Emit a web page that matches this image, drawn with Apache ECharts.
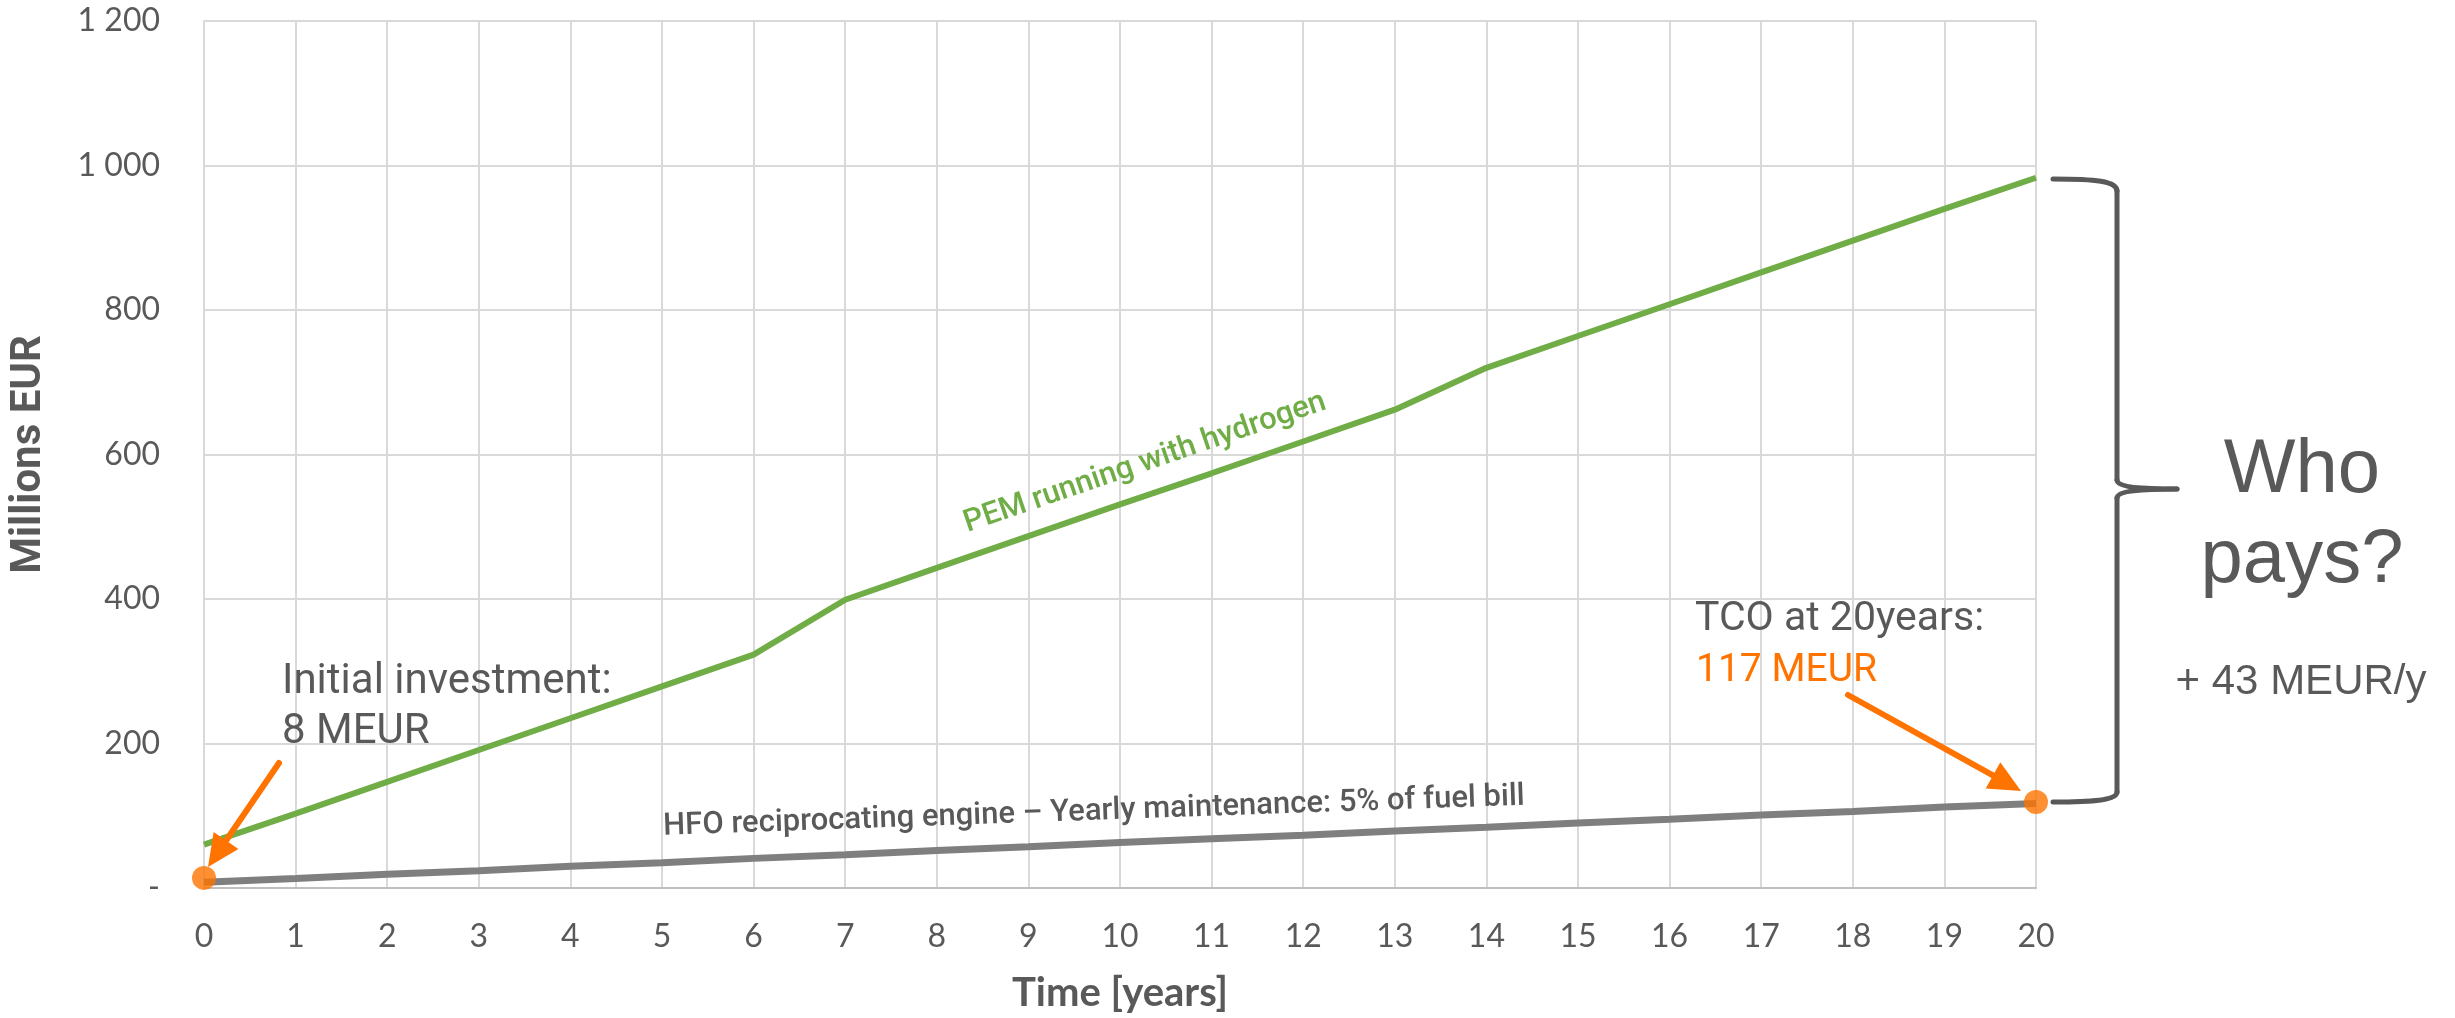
<!DOCTYPE html>
<html>
<head>
<meta charset="utf-8">
<script src="https://cdn.jsdelivr.net/npm/echarts@6/dist/echarts.min.js"></script>
<style>
html,body{margin:0;padding:0;background:#fff;}
#chart{width:2455px;height:1018px;}
</style>
</head>
<body>
<div id="chart"></div>
<script>
// ---- data ----
const years = [0,1,2,3,4,5,6,7,8,9,10,11,12,13,14,15,16,17,18,19,20];
const pemValues = [60,103,147,191,235,279,323,399,443,487,531,574,618,662,720,764,808,852,896,940,983];
const hfoValues = [8,13,19,24,30,35,41,46,52,57,63,68,73,79,84,90,95,101,106,112,117];
const highlightPoints = [[0,14],[20,119]];
const yTickLabels = ['-','200','400','600','800','1 000','1 200'];

const GRAY = '#595959', GREEN = '#70AD47', LINEGRAY = '#7F7F7F', ORANGE = '#FF7300';

const chart = echarts.init(document.getElementById('chart'));

function arrow(x1,y1,x2,y2,color){
  const dx=x2-x1, dy=y2-y1, L=Math.hypot(dx,dy), ux=dx/L, uy=dy/L;
  const hl=32, hw=15;
  const bx=x2-ux*hl, by=y2-uy*hl;
  return [
    {type:'line', shape:{x1:x1,y1:y1,x2:bx+ux*3,y2:by+uy*3}, style:{stroke:color,lineWidth:6,lineCap:'round'}, z:10},
    {type:'polygon', shape:{points:[[x2,y2],[bx-uy*hw,by+ux*hw],[bx+uy*hw,by-ux*hw]]}, style:{fill:color}, z:10}
  ];
}
function txt(text,x,y,font,fill,align,rot){
  return {type:'text', x:x, y:y, rotation:rot||0, z:10,
    style:{text:text, font:font, fill:fill, align:align||'left', verticalAlign:'middle'}};
}
const braceStyle = {stroke:GRAY, lineWidth:5, fill:null, lineCap:'round'};
function bez(x1,y1,cpx1,cpy1,cpx2,cpy2,x2,y2){
  return {type:'bezierCurve', shape:{x1:x1,y1:y1,cpx1:cpx1,cpy1:cpy1,cpx2:cpx2,cpy2:cpy2,x2:x2,y2:y2}, style:braceStyle, z:10};
}
function seg(x1,y1,x2,y2){
  return {type:'line', shape:{x1:x1,y1:y1,x2:x2,y2:y2}, style:braceStyle, z:10};
}

const option = {
  animation:false,
  backgroundColor:'#fff',
  grid:{left:196, right:419, top:21, bottom:128, containLabel:false},
  xAxis:{
    type:'value', min:0, max:20, interval:1,
    name:'Time [years]', nameLocation:'middle', nameGap:85,
    nameTextStyle:{fontFamily:'Lato', fontWeight:'bold', fontSize:40, color:GRAY},
    axisLine:{show:true, lineStyle:{color:'#BFBFBF', width:2}},
    axisTick:{show:false},
    splitLine:{show:true, lineStyle:{color:'#D9D9D9', width:2}},
    axisLabel:{fontFamily:'Lato', fontSize:32, color:GRAY, margin:33,
      formatter:function(v){return String(v);}}
  },
  yAxis:{
    type:'value', min:0, max:1200, interval:200,
    name:'Millions EUR', nameLocation:'middle', nameGap:154, nameRotate:90,
    nameTextStyle:{fontFamily:"'Liberation Sans Narrow', Roboto", fontWeight:'bold', fontSize:42, color:GRAY},
    axisLine:{show:true, lineStyle:{color:'#D9D9D9', width:2}},
    axisTick:{show:false},
    splitLine:{show:true, lineStyle:{color:'#D9D9D9', width:2}},
    axisLabel:{fontFamily:'Lato', fontSize:32, color:GRAY, margin:44,
      formatter:function(v){return yTickLabels[Math.round(v/200)];}}
  },
  series:[
    {type:'line', name:'PEM running with hydrogen', data:years.map((y,i)=>[y,pemValues[i]]),
      showSymbol:false, lineStyle:{color:GREEN, width:6}, z:3},
    {type:'line', name:'HFO reciprocating engine', data:years.map((y,i)=>[y,hfoValues[i]]),
      showSymbol:false, lineStyle:{color:LINEGRAY, width:7}, z:4},
    {type:'scatter', data:highlightPoints, symbolSize:24, itemStyle:{color:ORANGE}, z:6}
  ]
};
chart.setOption(option);

const gfx = [].concat(
  arrow(279,763,208,867,ORANGE),
  arrow(1848,695,2021,791,ORANGE),
  [
    bez(2053,179, 2095,179, 2117,181, 2117,191),
    seg(2117,191, 2117,480),
    bez(2117,480, 2117,487, 2140,489, 2177,489),
    bez(2177,489, 2140,489, 2117,491, 2117,498),
    seg(2117,498, 2117,792),
    bez(2117,792, 2117,800, 2095,802, 2053,802),
    txt('Initial investment:',282,682,'42px Roboto',GRAY),
    txt('8 MEUR',282,732,'42px Roboto',GRAY),
    txt('TCO at 20years:',1695,620,'41px Roboto',GRAY),
    txt('117 MEUR',1696,671,'39px Roboto',ORANGE),
    txt('PEM running with hydrogen',1145,463,'500 31px Roboto',GREEN,'center',0.33),
    txt('HFO reciprocating engine \u2013 Yearly maintenance: 5% of fuel bill',1094,812,'500 31px Roboto',GRAY,'center',0.035),
    txt('Who',2302,471,"76px 'Liberation Sans'",GRAY,'center'),
    txt('pays?',2302,561,"76px 'Liberation Sans'",GRAY,'center'),
    txt('+ 43 MEUR/y',2301,682,"42px 'Liberation Sans'",GRAY,'center')
  ]
);
chart.setOption({graphic:gfx});
</script>
</body>
</html>
